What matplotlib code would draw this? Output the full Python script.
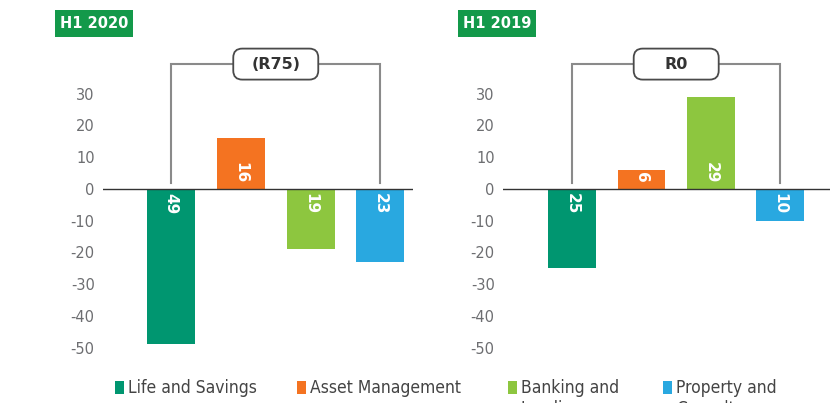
import matplotlib
matplotlib.use("Agg")
import matplotlib.pyplot as plt
from matplotlib.patches import Rectangle, FancyBboxPatch
from matplotlib.transforms import IdentityTransform

plt.rcParams['axes.unicode_minus'] = False
plt.rcParams['font.family'] = ['DejaVu Sans']

categories = ["Life and Savings", "Asset Management", "Banking and\nLending", "Property and\nCasualty"]
colors = ["#009670", "#f47321", "#8dc63f", "#29a8e0"]
panel_titles = ["H1 2020", "H1 2019"]
values_2020 = [-49, 16, -19, -23]
values_2019 = [-25, 6, 29, -10]
totals = ["(R75)", "R0"]
yticks = [-50, -40, -30, -20, -10, 0, 10, 20, 30]

W, H = 830, 403
fig = plt.figure(figsize=(W / 100, H / 100), dpi=100)

ax_specs = [
    (103 / W, 413 / W, (-0.98, 3.47)),
    (503 / W, 830 / W, (-1.0, 3.72)),
]
bottom = (H - 354) / H
height = 308 / H
axes = []
for (l, r, xl) in ax_specs:
    ax = fig.add_axes([l, bottom, r - l, height])
    ax.set_xlim(*xl)
    ax.set_ylim(-52, 45)
    for s in ax.spines.values():
        s.set_visible(False)
    ax.set_xticks([])
    ax.set_yticks(yticks)
    ax.set_yticklabels([str(t) for t in yticks])
    ax.tick_params(axis='y', length=0, pad=6, labelsize=10.5, labelcolor="#6d6e71")
    ax.axhline(0, color="#333333", lw=1.0, zorder=3)
    axes.append(ax)

bar_w = 0.69
for ax, vals, tot in zip(axes, [values_2020, values_2019], totals):
    xs = list(range(len(vals)))
    ax.bar(xs, vals, width=bar_w, color=colors, zorder=2)
    for x, v in zip(xs, vals):
        if v >= 0:
            ax.text(x, 1.8, str(abs(v)), rotation=-90, ha='center', va='bottom',
                    color='white', fontsize=11, fontweight='bold', zorder=4)
        else:
            ax.text(x, -1.3, str(abs(v)), rotation=-90, ha='center', va='top',
                    color='white', fontsize=11, fontweight='bold', zorder=4)
    # bracket
    ytop = 39.3
    ax.plot([xs[0], xs[0], xs[-1], xs[-1]], [2, ytop, ytop, 2],
            color="#8a8a8a", lw=1.5, zorder=1, solid_joinstyle='miter')
    cx = (xs[0] + xs[-1]) / 2
    px, py = ax.transData.transform((cx, ytop))
    bw, bh = 85, 31
    box = FancyBboxPatch((px - bw / 2, py - bh / 2), bw, bh,
                         boxstyle="round,pad=0,rounding_size=9",
                         transform=IdentityTransform(), facecolor='white',
                         edgecolor="#4a4a4a", lw=1.3, zorder=5, clip_on=False)
    ax.add_patch(box)
    ax.text(cx, ytop, tot, ha='center', va='center', fontsize=11.5,
            fontweight='bold', color="#333333", zorder=6)

# panel title badges
badges = [(55, 10, 78, 27), (458, 10, 78, 27)]
for (bx, by, bwid, bhei), title in zip(badges, panel_titles):
    fig.add_artist(Rectangle((bx / W, (H - by - bhei) / H), bwid / W, bhei / H,
                             transform=fig.transFigure, facecolor="#13994a",
                             edgecolor='none'))
    fig.text((bx + bwid / 2) / W, (H - by - bhei / 2) / H, title, ha='center',
             va='center', color='white', fontsize=10.5, fontweight='bold')

# legend
leg_x = [115, 297, 508, 663]
for lx, c, lab in zip(leg_x, colors, categories):
    fig.add_artist(Rectangle((lx / W, (H - 394) / H), 9 / W, 13 / H,
                             transform=fig.transFigure, facecolor=c, edgecolor='none'))
    fig.text((lx + 13) / W, (H - 379) / H, lab, ha='left', va='top',
             fontsize=12.5, color="#444444", fontstretch='condensed',
             family=['DejaVu Sans'], linespacing=1.2)

fig.savefig("out.png", dpi=100)
